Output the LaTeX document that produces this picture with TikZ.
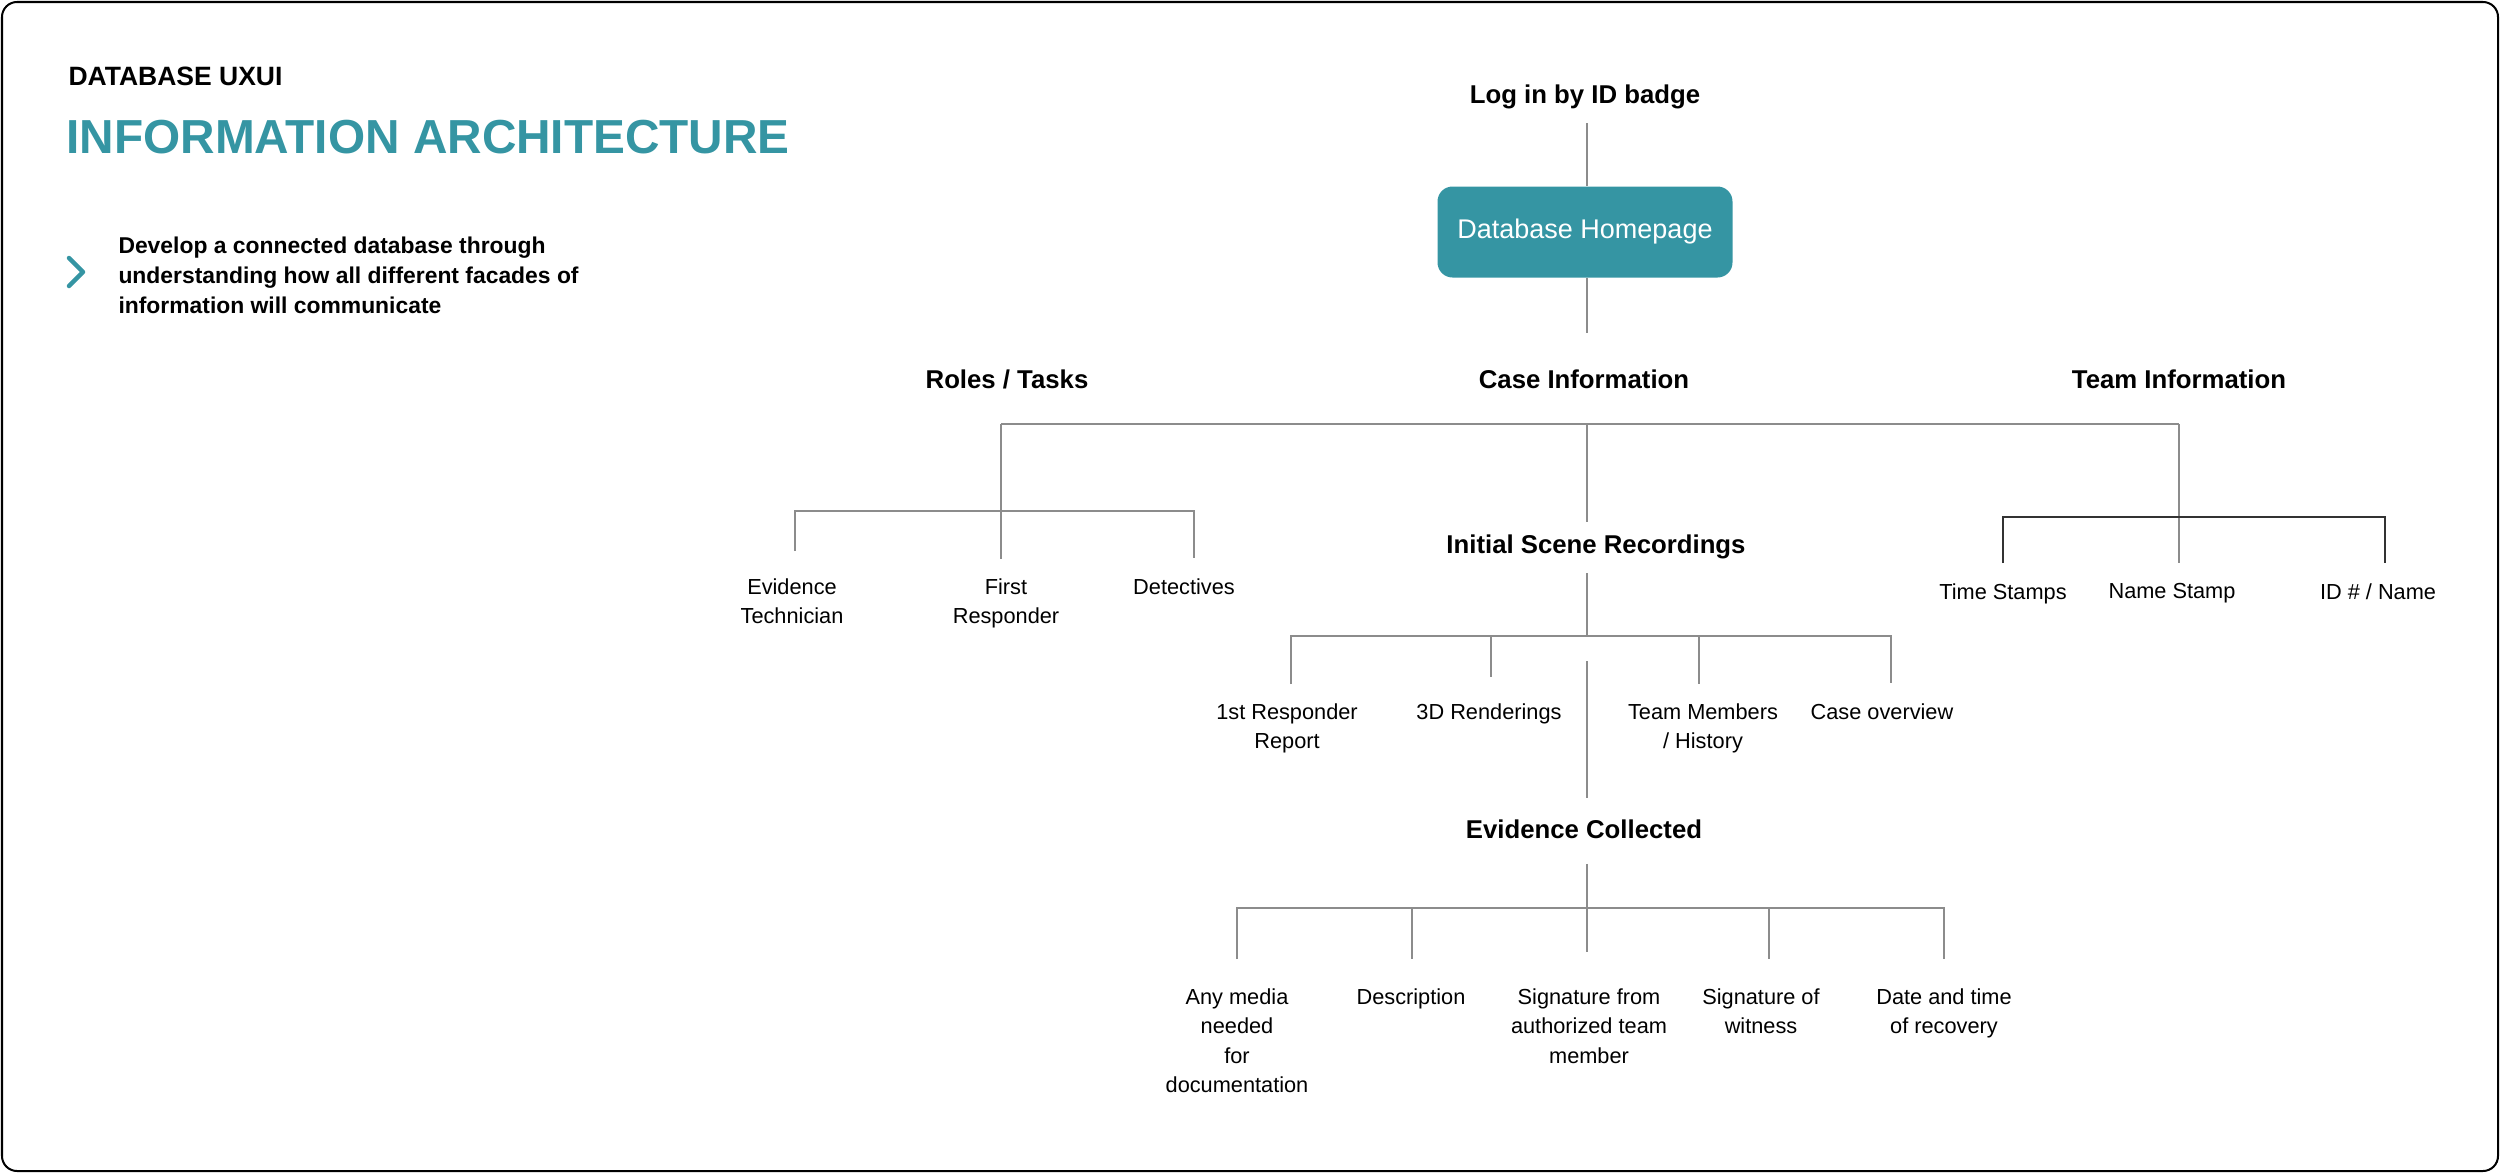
\documentclass[tikz,border=0pt]{standalone}
\usepackage{fontspec}
\setmainfont{Liberation Sans}
\definecolor{iateal}{HTML}{3595A3}
\definecolor{linegray}{HTML}{8C8C8C}
\tikzset{
  head/.style={font=\fontsize{10.3}{12}\selectfont\bfseries, inner sep=0pt, anchor=base},
  leaf/.style={font=\fontsize{8.7}{11.8}\selectfont, align=center, inner sep=0pt, anchor=north},
  link/.style={linegray, line width=0.8pt},
  teamlink/.style={black!80, line width=1pt},
}
\begin{document}
\begin{tikzpicture}[x=0.4pt,y=-0.4pt]
      \useasboundingbox (0,0) rectangle (2500,1173);
      \draw[line width=0.8pt,rounded corners=6pt] (2,2) rectangle (2498,1171);
      \node[anchor=base west,inner sep=0pt,font=\fontsize{10.6}{13}\selectfont\bfseries] (kicker) at (68,85) {DATABASE UXUI};
      \node[anchor=base west,inner sep=0pt,text=iateal,font=\fontsize{19.1}{22}\selectfont\bfseries] (title) at (66,153) {INFORMATION ARCHITECTURE};
      \draw[iateal,line width=1.8pt,line cap=round,line join=round] (69,258) -- (83,272) -- (69,286);
      \node[anchor=north west,inner sep=0pt,align=left,font=\fontsize{9.15}{12}\selectfont\bfseries] (goal) at (118,236) {Develop a connected database through\\understanding how all different facades of\\information will communicate};
      \node[head] (login) at (1585,103) {Log in by ID badge};
      \node[fill=iateal,text=white,rounded corners=6pt,minimum width=118pt,minimum height=36.4pt,inner sep=0pt,font=\fontsize{10.8}{12}\selectfont] (home) at (1585,232) {Database Homepage};
      \node[head] (roles) at (1007,388) {Roles / Tasks};
      \node[head] (casei) at (1584,388) {Case Information};
      \node[head] (teami) at (2179,388) {Team Information};
      \node[head] (isr) at (1596,553) {Initial Scene Recordings};
      \node[head] (evc) at (1584,838) {Evidence Collected};
      \node[leaf] (et) at (792,578) {Evidence\\Technician};
      \node[leaf] (fr) at (1006,578) {First\\Responder};
      \node[leaf] (det) at (1184,578) {Detectives};
      \node[leaf] (ts) at (2003,583) {Time Stamps};
      \node[leaf] (ns) at (2172,583) {Name Stamp};
      \node[leaf] (idn) at (2378,583) {ID \# / Name};
      \node[leaf] (rep) at (1287,703) {1st Responder\\Report};
      \node[leaf] (ren) at (1489,703) {3D Renderings};
      \node[leaf] (tmh) at (1703,703) {Team Members\\/ History};
      \node[leaf] (cov) at (1882,703) {Case overview};
      \node[leaf] (med) at (1237,988) {Any media\\needed\\for\\documentation};
      \node[leaf] (des) at (1411,988) {Description};
      \node[leaf] (sig) at (1589,988) {Signature from\\authorized team\\member};
      \node[leaf] (wit) at (1761,988) {Signature of\\witness};
      \node[leaf] (dat) at (1944,988) {Date and time\\of recovery};
      \coordinate (col) at (1587,0);
      \coordinate (rolesdrop) at (1001,424);
      \coordinate (teamdrop) at (2179,424);
      \coordinate (rolesL) at (795,511);
      \coordinate (rolesR) at (1194,511);
      \coordinate (teamL) at (2003,517);
      \coordinate (teamR) at (2385,517);
      \coordinate (isrL) at (1291,636);
      \coordinate (isrR) at (1891,636);
      \coordinate (evcfeed) at (1587,661);
      \coordinate (evcL) at (1237,908);
      \coordinate (evcR) at (1944,908);
      \draw[link,shorten <=5.8pt] (col |- login.south) -- (col |- home.north);
      \draw[link,shorten >=14.4pt] (col |- home.south) -- (col |- casei.north);
      \draw[link] (rolesdrop) -- (teamdrop);
      \draw[link,shorten >=7.6pt] (rolesdrop) -- (rolesdrop |- fr.north);
      \draw[link,shorten >=4.8pt] (col |- rolesdrop) -- (col |- isr.north);
      \draw[link,shorten >=8pt] (teamdrop) -- (teamdrop |- ns.north);
      \draw[link,shorten <=10.8pt,shorten >=8pt] (rolesL |- et.north) -- (rolesL) -- (rolesR) -- (rolesR |- det.north);
      \draw[teamlink,shorten <=8pt,shorten >=8pt] (teamL |- ts.north) -- (teamL) -- (teamR) -- (teamR |- idn.north);
      \draw[link,shorten <=5.8pt] (col |- isr.south) -- (col |- isrL);
      \draw[link,shorten <=7.6pt,shorten >=8pt] (isrL |- rep.north) -- (isrL) -- (isrR) -- (isrR |- cov.north);
      \foreach \x/\n/\g in {1491/ren/10.4pt,1699/tmh/7.6pt}
        \draw[link,shorten >=\g] (\x,636) -- (\x,636 |- \n.north);
      \draw[link,shorten >=8.4pt] (evcfeed) -- (col |- evc.north);
      \draw[link,shorten <=10pt,shorten >=14.4pt] (col |- evc.south) -- (col |- sig.north);
      \draw[link,shorten <=11.6pt,shorten >=11.6pt] (evcL |- med.north) -- (evcL) -- (evcR) -- (evcR |- dat.north);
      \foreach \x/\n in {1412/des,1769/wit}
        \draw[link,shorten >=11.6pt] (\x,908) -- (\x,908 |- \n.north);
    \end{tikzpicture}
\end{document}
